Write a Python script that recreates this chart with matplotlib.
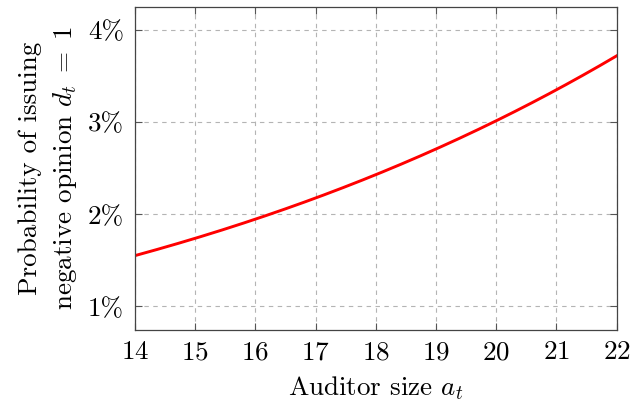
import numpy as np
import matplotlib.pyplot as plt

# values
auditor_size = [14, 15, 16, 17, 18, 19, 20, 21, 22]
prob_negative = [1.55, 1.74, 1.95, 2.18, 2.43, 2.71, 3.01, 3.34, 3.73]
y_ticks = [1, 2, 3, 4]
y_tick_labels = ['1%', '2%', '3%', '4%']

plt.rcParams['font.family'] = 'serif'
plt.rcParams['font.serif'] = ['cmr10']
plt.rcParams['mathtext.fontset'] = 'cm'
plt.rcParams['axes.formatter.use_mathtext'] = True

fig = plt.figure(figsize=(6.33, 4.04), dpi=100)
ax = fig.add_axes([0.2133, 0.1844, 0.7607, 0.7983])

# smooth the curve between read points
xs = np.linspace(14, 22, 200)
coef = np.polyfit(auditor_size, np.log(prob_negative), 2)
ax.plot(xs, np.exp(np.polyval(coef, xs)), color='red', lw=2.1)

ax.set_xlim(14, 22)
ax.set_ylim(0.75, 4.25)
ax.set_xticks(auditor_size)
ax.set_yticks(y_ticks)
ax.set_yticklabels(y_tick_labels)
ax.grid(True, color='#b4b4b4', ls=(0, (4, 4)), lw=0.8)
ax.tick_params(direction='in', top=True, right=True, length=5,
               color='#555555', labelsize=19.5, pad=8)
for s in ax.spines.values():
    s.set_color('#444444')
    s.set_linewidth(0.9)

ax.set_xlabel(r'Auditor size $a_t$', fontsize=19.5, labelpad=7)
ax.set_ylabel('Probability of issuing\nnegative opinion $d_t\\;=\\;1$',
              fontsize=19.5, labelpad=6, linespacing=1.45)

fig.savefig('out.png', dpi=100)
